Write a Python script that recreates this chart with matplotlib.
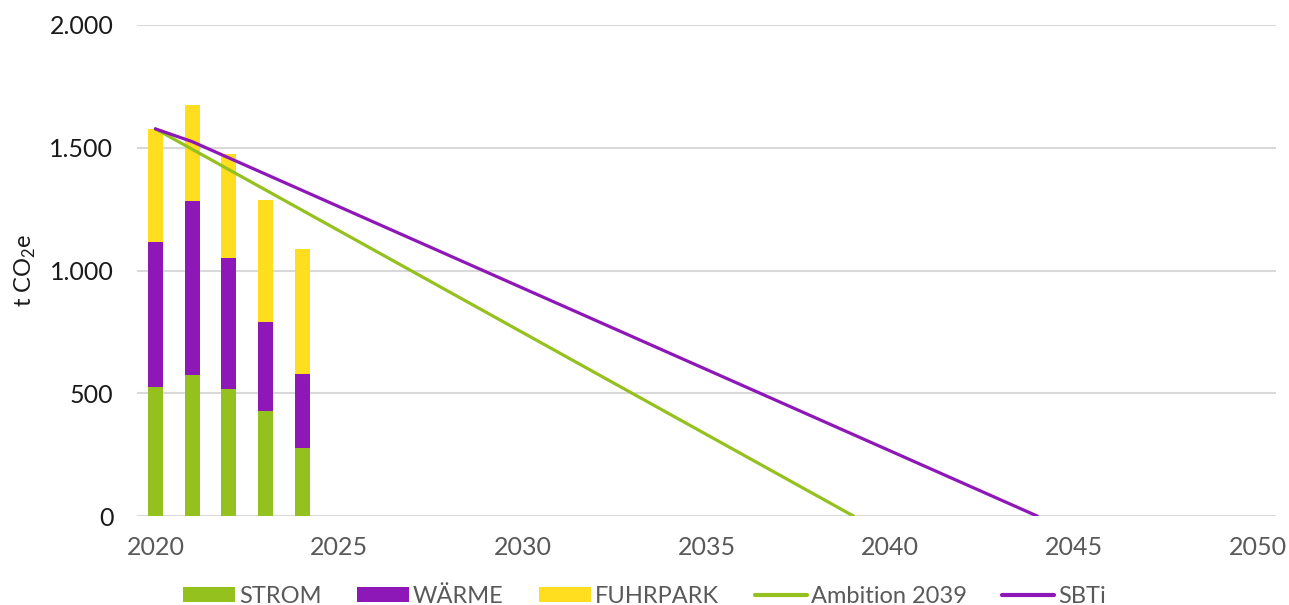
import matplotlib
matplotlib.use("Agg")
import matplotlib.pyplot as plt
from matplotlib.ticker import FuncFormatter

plt.rcParams['font.family'] = ['Lato', 'DejaVu Sans']
plt.rcParams['mathtext.fontset'] = 'custom'
plt.rcParams['mathtext.rm'] = 'Lato'

# bar data (t CO2e per year)
years = [2020, 2021, 2022, 2023, 2024]
strom = [526, 575, 518, 428, 277]
waerme = [590, 709, 533, 362, 302]
fuhrpark = [461, 391, 424, 498, 509]

# reduction paths
ambition_years = [2020, 2039]
ambition_vals = [1577, 0]
sbti_years = [2020, 2021, 2044]
sbti_vals = [1577, 1525, 0]

c_green = "#95C11F"
c_purple = "#8E17B8"
c_yellow = "#FFDD1F"

fig = plt.figure(figsize=(12.89, 6.05), dpi=100)
ax = fig.add_axes([0.1063, 0.147, 0.8837, 0.8117])

bottom2 = [a + b for a, b in zip(strom, waerme)]
b1 = ax.bar(years, strom, width=0.41, color=c_green, label="STROM", zorder=2)
b2 = ax.bar(years, waerme, width=0.41, bottom=strom, color=c_purple, label="WÄRME", zorder=2)
b3 = ax.bar(years, fuhrpark, width=0.41, bottom=bottom2, color=c_yellow, label="FUHRPARK", zorder=2)

l1, = ax.plot(ambition_years, ambition_vals, color=c_green, lw=2.3, label="Ambition 2039",
              zorder=3, solid_capstyle="round")
l2, = ax.plot(sbti_years, sbti_vals, color=c_purple, lw=2.3, label="SBTi",
              zorder=3, solid_capstyle="round")

ax.set_xlim(2019.5, 2050.5)
ax.set_ylim(0, 2000)
ax.set_xticks(range(2020, 2051, 5))
ax.set_yticks(range(0, 2001, 500))
ax.yaxis.set_major_formatter(FuncFormatter(lambda v, p: f"{int(v):,}".replace(",", ".")))

ax.grid(axis="y", color="#d9d9d9", lw=1.5, zorder=0)
ax.set_axisbelow(True)
for s in ax.spines.values():
    s.set_visible(False)
ax.tick_params(length=0)
ax.tick_params(axis="y", labelsize=18, labelcolor="#1a1a1a", pad=17)
ax.tick_params(axis="x", labelsize=18, labelcolor="#595959", pad=14)

ax.set_ylabel("t CO$_\\mathregular{2}$e", fontsize=17, color="#1a1a1a", labelpad=8)

leg = fig.legend([b1, b2, b3, l1, l2], ["STROM", "WÄRME", "FUHRPARK", "Ambition 2039", "SBTi"],
                 loc="lower center", bbox_to_anchor=(0.5, -0.038), ncol=5,
                 frameon=False, fontsize=17, handlelength=2.2, handleheight=0.55,
                 handletextpad=0.17, columnspacing=1.5, labelcolor="#595959")
for line in leg.get_lines():
    line.set_linewidth(3)

fig.savefig("out.png", dpi=100)
